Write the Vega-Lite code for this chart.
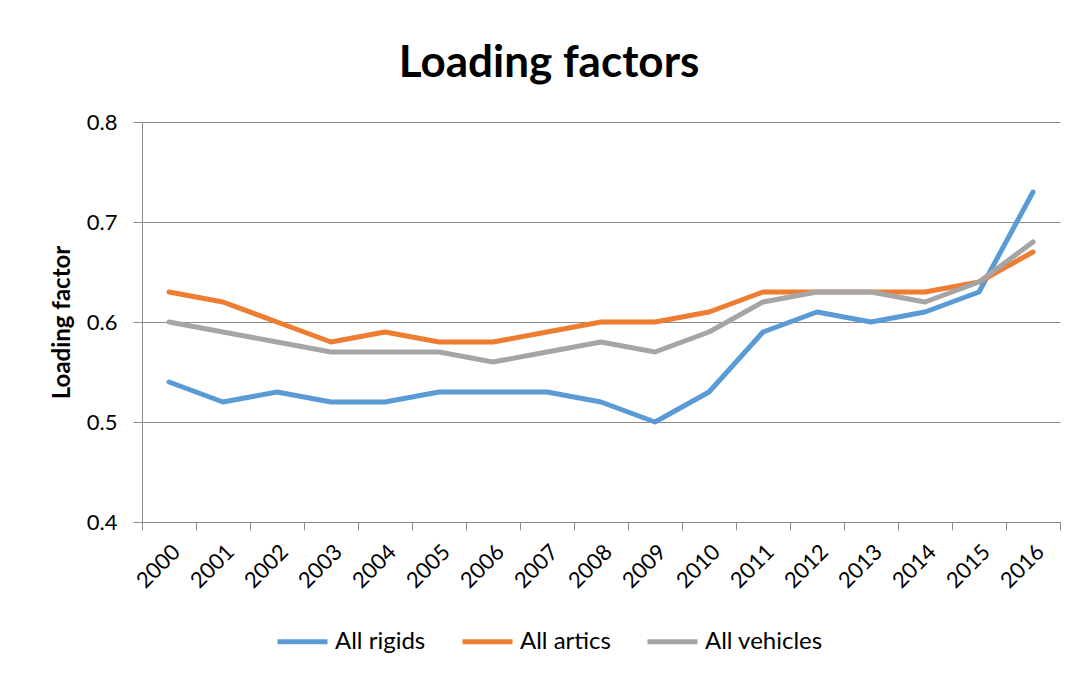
{
  "$schema": "https://vega.github.io/schema/vega-lite/v6.json",
  "width": 918,
  "height": 400,
  "autosize": "none",
  "padding": {"left": 142, "top": 122, "right": 16, "bottom": 153},
  "background": "white",
  "title": {
    "text": "Loading factors",
    "font": "Lato",
    "fontSize": 44,
    "fontWeight": "bold",
    "color": "black",
    "anchor": "middle",
    "dx": -52,
    "offset": 25
  },
  "config": {
    "view": {"stroke": null},
    "font": "Lato"
  },
  "data": {
    "values": [
      {"year": "2000", "series": "All rigids", "value": 0.54},
      {"year": "2001", "series": "All rigids", "value": 0.52},
      {"year": "2002", "series": "All rigids", "value": 0.53},
      {"year": "2003", "series": "All rigids", "value": 0.52},
      {"year": "2004", "series": "All rigids", "value": 0.52},
      {"year": "2005", "series": "All rigids", "value": 0.53},
      {"year": "2006", "series": "All rigids", "value": 0.53},
      {"year": "2007", "series": "All rigids", "value": 0.53},
      {"year": "2008", "series": "All rigids", "value": 0.52},
      {"year": "2009", "series": "All rigids", "value": 0.50},
      {"year": "2010", "series": "All rigids", "value": 0.53},
      {"year": "2011", "series": "All rigids", "value": 0.59},
      {"year": "2012", "series": "All rigids", "value": 0.61},
      {"year": "2013", "series": "All rigids", "value": 0.60},
      {"year": "2014", "series": "All rigids", "value": 0.61},
      {"year": "2015", "series": "All rigids", "value": 0.63},
      {"year": "2016", "series": "All rigids", "value": 0.73},
      {"year": "2000", "series": "All artics", "value": 0.63},
      {"year": "2001", "series": "All artics", "value": 0.62},
      {"year": "2002", "series": "All artics", "value": 0.60},
      {"year": "2003", "series": "All artics", "value": 0.58},
      {"year": "2004", "series": "All artics", "value": 0.59},
      {"year": "2005", "series": "All artics", "value": 0.58},
      {"year": "2006", "series": "All artics", "value": 0.58},
      {"year": "2007", "series": "All artics", "value": 0.59},
      {"year": "2008", "series": "All artics", "value": 0.60},
      {"year": "2009", "series": "All artics", "value": 0.60},
      {"year": "2010", "series": "All artics", "value": 0.61},
      {"year": "2011", "series": "All artics", "value": 0.63},
      {"year": "2012", "series": "All artics", "value": 0.63},
      {"year": "2013", "series": "All artics", "value": 0.63},
      {"year": "2014", "series": "All artics", "value": 0.63},
      {"year": "2015", "series": "All artics", "value": 0.64},
      {"year": "2016", "series": "All artics", "value": 0.67},
      {"year": "2000", "series": "All vehicles", "value": 0.60},
      {"year": "2001", "series": "All vehicles", "value": 0.59},
      {"year": "2002", "series": "All vehicles", "value": 0.58},
      {"year": "2003", "series": "All vehicles", "value": 0.57},
      {"year": "2004", "series": "All vehicles", "value": 0.57},
      {"year": "2005", "series": "All vehicles", "value": 0.57},
      {"year": "2006", "series": "All vehicles", "value": 0.56},
      {"year": "2007", "series": "All vehicles", "value": 0.57},
      {"year": "2008", "series": "All vehicles", "value": 0.58},
      {"year": "2009", "series": "All vehicles", "value": 0.57},
      {"year": "2010", "series": "All vehicles", "value": 0.59},
      {"year": "2011", "series": "All vehicles", "value": 0.62},
      {"year": "2012", "series": "All vehicles", "value": 0.63},
      {"year": "2013", "series": "All vehicles", "value": 0.63},
      {"year": "2014", "series": "All vehicles", "value": 0.62},
      {"year": "2015", "series": "All vehicles", "value": 0.64},
      {"year": "2016", "series": "All vehicles", "value": 0.68}
    ]
  },
  "mark": {"type": "line", "strokeWidth": 5, "strokeCap": "round", "strokeJoin": "round"},
  "encoding": {
    "x": {
      "field": "year",
      "type": "ordinal",
      "scale": {"type": "band", "paddingInner": 0, "paddingOuter": 0},
      "axis": {
        "title": null,
        "labelAngle": -45,
        "labelFontSize": 22,
        "labelColor": "black",
        "labelFont": "Lato",
        "labelPadding": 11,
        "tickBand": "extent",
        "tickSize": 8,
        "tickColor": "#8c8c8c",
        "domainColor": "#8c8c8c",
        "grid": false
      }
    },
    "y": {
      "field": "value",
      "type": "quantitative",
      "scale": {"domain": [0.4, 0.8], "nice": false, "zero": false},
      "axis": {
        "title": "Loading factor",
        "titleFontSize": 24,
        "titleFont": "Lato",
        "titleFontWeight": "bold",
        "titleColor": "black",
        "titlePadding": 12,
        "values": [0.4, 0.5, 0.6, 0.7, 0.8],
        "format": ".1f",
        "labelFontSize": 22,
        "labelColor": "black",
        "labelFont": "Lato",
        "labelPadding": 16,
        "tickSize": 9,
        "tickColor": "#8c8c8c",
        "domainColor": "#8c8c8c",
        "gridColor": "#8c8c8c",
        "gridOpacity": 1
      }
    },
    "color": {
      "field": "series",
      "type": "nominal",
      "scale": {
        "domain": ["All rigids", "All artics", "All vehicles"],
        "range": ["#5B9BD5", "#ED7D31", "#A5A5A5"]
      },
      "legend": {
        "title": null,
        "orient": "none",
        "direction": "horizontal",
        "legendX": 133,
        "legendY": 492,
        "symbolType": "stroke",
        "symbolSize": 2500,
        "symbolStrokeWidth": 5,
        "labelFontSize": 24,
        "labelFont": "Lato",
        "labelColor": "black",
        "labelOffset": 5,
        "columnPadding": 26
      }
    }
  }
}
